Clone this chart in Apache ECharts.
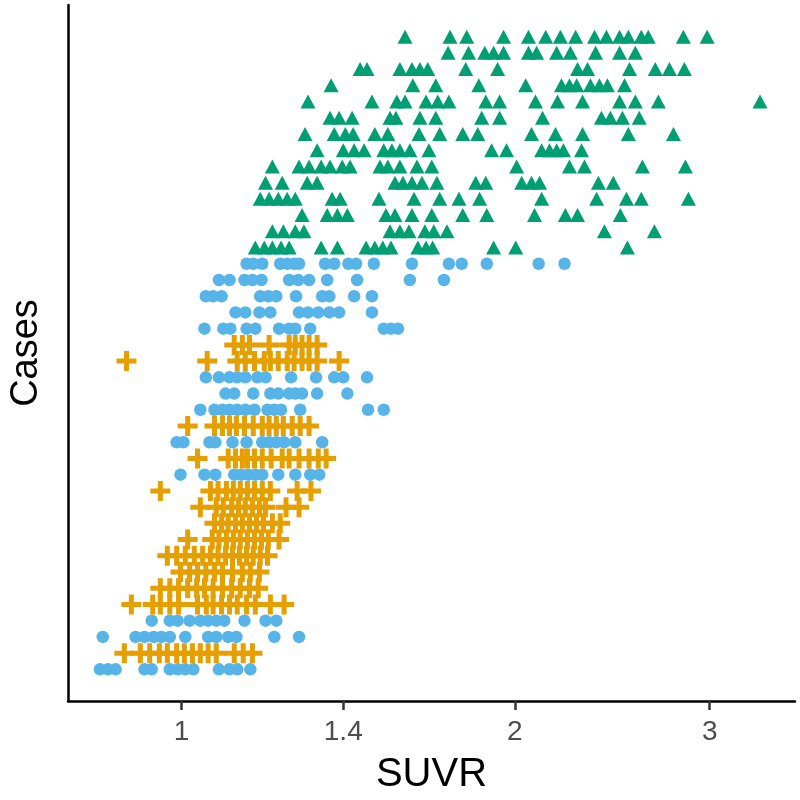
<!DOCTYPE html>
<html>
<head>
<meta charset="utf-8">
<script src="https://cdn.jsdelivr.net/npm/echarts@6/dist/echarts.min.js"></script>
<style>
html,body{margin:0;padding:0;background:#fff;}
#chart{width:800px;height:800px;}
</style>
</head>
<body>
<div id="chart"></div>
<script>
// Tick labels on the (log) SUVR axis
const xTickValues = [1, 1.4, 2, 3];
const xTickLabels = ['1', '1.4', '2', '3'];

// Green triangles: case rows and SUVR values per row
const greenRows = [27, 28, 29, 30, 31, 32, 33, 34, 35, 36, 37, 38, 39, 40];
const greenSUVR = [
  [1.166, 1.188, 1.208, 1.230, 1.251, 1.337, 1.383, 1.468, 1.495, 1.520, 1.546, 1.635, 1.663, 1.686, 1.914, 2.004, 2.528],
  [1.208, 1.236, 1.267, 1.290, 1.543, 1.575, 1.605, 1.659, 1.690, 1.737, 2.410, 2.674],
  [1.285, 1.354, 1.383, 1.412, 1.530, 1.559, 1.615, 1.683, 1.795, 1.887, 2.084, 2.222, 2.279, 2.491],
  [1.178, 1.200, 1.223, 1.246, 1.267, 1.368, 1.391, 1.508, 1.622, 1.711, 1.781, 1.859, 2.115, 2.371, 2.523, 2.602, 2.870],
  [1.191, 1.233, 1.299, 1.326, 1.559, 1.585, 1.615, 1.649, 1.701, 1.844, 1.883, 2.029, 2.071, 2.106, 2.380, 2.455],
  [1.208, 1.277, 1.304, 1.337, 1.362, 1.397, 1.420, 1.511, 1.536, 1.575, 1.632, 1.683, 2.008, 2.241, 2.312, 2.608, 2.852],
  [1.326, 1.400, 1.432, 1.462, 1.523, 1.549, 1.575, 1.608, 1.673, 1.906, 1.966, 2.115, 2.150, 2.182, 2.213, 2.298],
  [1.293, 1.374, 1.406, 1.429, 1.495, 1.536, 1.639, 1.711, 1.795, 1.852, 2.071, 2.177, 2.303, 2.533, 2.782],
  [1.362, 1.388, 1.426, 1.543, 1.562, 1.642, 1.697, 1.867, 1.938, 2.119, 2.395, 2.440, 2.502, 2.591],
  [1.301, 1.486, 1.565, 1.592, 1.663, 1.704, 1.744, 1.883, 1.938, 2.088, 2.186, 2.303, 2.487, 2.570, 2.696, 3.331],
  [1.365, 1.618, 1.697, 1.856, 2.046, 2.204, 2.241, 2.275, 2.341, 2.385, 2.425, 2.513],
  [1.450, 1.471, 1.575, 1.615, 1.642, 1.669, 1.806, 1.930, 2.279, 2.327, 2.539, 2.679, 2.759, 2.846],
  [1.741, 1.817, 1.879, 1.914, 1.954, 2.058, 2.093, 2.182, 2.245, 2.366, 2.487, 2.570],
  [1.592, 1.748, 1.810, 1.954, 2.058, 2.133, 2.199, 2.270, 2.361, 2.420, 2.487, 2.533, 2.602, 2.640, 2.840, 2.984]
];

// Blue circles
const blueRows = [1, 3, 4, 13, 15, 17, 18, 19, 22, 23, 24, 25, 26];
const blueSUVR = [
  [0.844, 0.858, 0.872, 0.926, 0.940, 0.976, 0.992, 1.008, 1.025, 1.081, 1.105, 1.123, 1.154],
  [0.849, 0.909, 0.926, 0.944, 0.959, 0.976, 1.008, 1.057, 1.075, 1.102, 1.121, 1.213, 1.277],
  [0.940, 0.976, 0.992, 1.017, 1.040, 1.057, 1.075, 1.093, 1.140, 1.191, 1.218],
  [0.998, 1.049, 1.073, 1.116, 1.132, 1.149, 1.166, 1.183, 1.223, 1.267, 1.307, 1.332],
  [0.990, 1.004, 1.060, 1.073, 1.112, 1.145, 1.183, 1.200, 1.218, 1.238, 1.267, 1.340],
  [1.040, 1.071, 1.089, 1.105, 1.123, 1.142, 1.164, 1.196, 1.213, 1.230, 1.280, 1.474, 1.523],
  [1.096, 1.116, 1.161, 1.203, 1.223, 1.251, 1.267, 1.285, 1.326, 1.412],
  [1.052, 1.081, 1.105, 1.123, 1.142, 1.171, 1.191, 1.256, 1.323, 1.374, 1.400, 1.471],
  [1.049, 1.091, 1.107, 1.145, 1.166, 1.225, 1.251, 1.267, 1.307, 1.523, 1.546, 1.569],
  [1.119, 1.142, 1.176, 1.203, 1.277, 1.301, 1.329, 1.360, 1.388, 1.486],
  [1.052, 1.068, 1.087, 1.178, 1.198, 1.218, 1.269, 1.340, 1.360, 1.432, 1.486],
  [1.081, 1.105, 1.140, 1.159, 1.181, 1.251, 1.275, 1.304, 1.354, 1.441, 1.608, 1.726],
  [1.145, 1.161, 1.183, 1.228, 1.246, 1.264, 1.277, 1.348, 1.374, 1.415, 1.438, 1.492, 1.615, 1.744, 1.791, 1.887, 2.102, 2.218]
];

// Orange crosses
const orangeRows = [2, 5, 6, 7, 8, 9, 10, 11, 12, 14, 16, 20, 21];
const orangeSUVR = [
  [0.888, 0.918, 0.936, 0.955, 0.971, 0.990, 1.006, 1.023, 1.040, 1.057, 1.075, 1.116, 1.137, 1.159],
  [0.901, 0.942, 0.957, 0.976, 0.994, 1.034, 1.053, 1.068, 1.087, 1.105, 1.123, 1.145, 1.166, 1.203, 1.238],
  [0.957, 0.976, 0.994, 1.013, 1.032, 1.049, 1.068, 1.089, 1.110, 1.130, 1.152, 1.173],
  [0.998, 1.017, 1.034, 1.052, 1.071, 1.089, 1.112, 1.135, 1.154, 1.176],
  [0.971, 0.990, 1.008, 1.027, 1.045, 1.062, 1.079, 1.096, 1.112, 1.128, 1.145, 1.161, 1.178, 1.196],
  [1.013, 1.066, 1.081, 1.098, 1.114, 1.130, 1.147, 1.164, 1.181, 1.198, 1.225],
  [1.071, 1.087, 1.102, 1.119, 1.135, 1.152, 1.169, 1.186, 1.208, 1.228],
  [1.040, 1.075, 1.091, 1.110, 1.126, 1.142, 1.159, 1.176, 1.191, 1.243, 1.277],
  [0.957, 1.062, 1.079, 1.098, 1.114, 1.130, 1.147, 1.164, 1.183, 1.203, 1.272, 1.309],
  [1.034, 1.102, 1.119, 1.135, 1.147, 1.164, 1.183, 1.205, 1.233, 1.251, 1.277, 1.304, 1.329, 1.351],
  [1.013, 1.071, 1.089, 1.105, 1.121, 1.140, 1.161, 1.183, 1.200, 1.218, 1.236, 1.259, 1.280, 1.304],
  [0.892, 1.055, 1.123, 1.142, 1.164, 1.188, 1.203, 1.223, 1.246, 1.264, 1.285, 1.304, 1.326, 1.388],
  [1.116, 1.135, 1.152, 1.200, 1.251, 1.267, 1.285, 1.304, 1.326]
];

function toPoints(rows, vals) {
  const out = [];
  rows.forEach((r, i) => vals[i].forEach(v => out.push([Math.log(v), r])));
  return out;
}

const plusPath = 'path://M7.5,0H12.5V7.5H20V12.5H12.5V20H7.5V12.5H0V7.5H7.5Z';
const FONT = '"Liberation Sans", Arial, Helvetica, sans-serif';

const chart = echarts.init(document.getElementById('chart'), null, {renderer: 'canvas'});
chart.setOption({
  animation: false,
  backgroundColor: '#ffffff',
  grid: {left: 66, right: 5, top: 5, bottom: 98, containLabel: false},
  xAxis: {
    type: 'value',
    min: -0.236,
    max: 1.276,
    name: 'SUVR',
    nameLocation: 'middle',
    nameGap: 54,
    nameTextStyle: {fontFamily: FONT, fontSize: 40, color: '#000'},
    axisLine: {show: true, onZero: false, lineStyle: {color: '#000', width: 2.5}},
    axisTick: {show: true, length: 9, lineStyle: {color: '#333', width: 2.5},
      customValues: xTickValues.map(v => Math.log(v))},
    axisLabel: {
      show: true, margin: 17, fontFamily: FONT, fontSize: 28, color: '#4D4D4D',
      customValues: xTickValues.map(v => Math.log(v)),
      formatter: function (val) {
        for (let i = 0; i < xTickValues.length; i++) {
          if (Math.abs(Math.log(xTickValues[i]) - val) < 1e-6) return xTickLabels[i];
        }
        return '';
      }
    },
    splitLine: {show: false}
  },
  yAxis: {
    type: 'value',
    min: -0.95,
    max: 41.95,
    name: 'Cases',
    nameLocation: 'middle',
    nameRotate: 90,
    nameGap: 22,
    nameTextStyle: {fontFamily: FONT, fontSize: 38, color: '#000'},
    axisLine: {show: true, onZero: false, lineStyle: {color: '#000', width: 2.5}},
    axisTick: {show: false},
    axisLabel: {show: false},
    splitLine: {show: false}
  },
  series: [
    {
      name: 'Green', type: 'scatter', symbol: 'triangle', symbolSize: [15, 14],
      itemStyle: {color: '#009E73', opacity: 1},
      data: toPoints(greenRows, greenSUVR)
    },
    {
      name: 'Blue', type: 'scatter', symbol: 'circle', symbolSize: 12.5,
      itemStyle: {color: '#56B4E9', opacity: 1},
      data: toPoints(blueRows, blueSUVR)
    },
    {
      name: 'Orange', type: 'scatter', symbol: plusPath, symbolSize: 20,
      itemStyle: {color: '#E69F00', opacity: 1},
      data: toPoints(orangeRows, orangeSUVR)
    }
  ]
});
</script>
</body>
</html>
